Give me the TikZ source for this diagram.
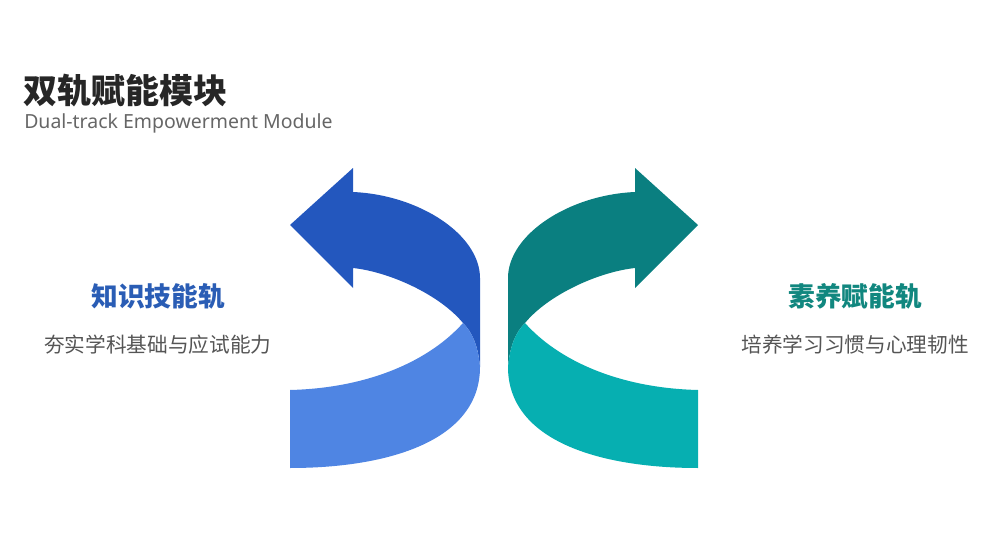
\documentclass[tikz,border=0pt]{standalone}
\usepackage{fontspec}
\usepackage{tikz}
\usetikzlibrary{positioning}
\newfontfamily\cjk{Noto Sans CJK SC}
\newfontfamily\latin{Noto Sans}
\definecolor{blueDark}{HTML}{2357BE}
\definecolor{blueLight}{HTML}{4F85E3}
\definecolor{tealDark}{HTML}{0A7F80}
\definecolor{tealLight}{HTML}{06AFB1}
\definecolor{blueText}{HTML}{2A5DB5}
\definecolor{tealText}{HTML}{11877F}
\definecolor{greyText}{HTML}{555555}

\begin{document}
\begin{tikzpicture}[x=0.75pt,y=-0.75pt]

          \tikzstyle{titleNode} = [inner sep=0pt, anchor=west, font=\cjk\bfseries\fontsize{25.5}{30}\selectfont, black!85];
          \tikzstyle{subNode} = [inner sep=0pt, anchor=base west, font=\latin\fontsize{14.6}{17}\selectfont, greyText!90];
          \tikzstyle{trackNode} = [inner sep=0pt, font=\cjk\bfseries\fontsize{20}{24}\selectfont];
          \tikzstyle{descNode} = [inner sep=0pt, font=\cjk\fontsize{15.5}{19}\selectfont, greyText];

          \useasboundingbox (0,0) rectangle (997,560);

          % left track arrow, right one is its mirror
          \foreach \mirror/\dark/\light in {1/blueDark/blueLight, -1/tealDark/tealLight} {
            \begin{scope}[xshift={(1-\mirror)*494*0.75pt}, xscale=\mirror]
              \fill[\dark] (290,225) -- (353,168) -- (353,192)
                .. controls (420,195) and (480,235) .. (480,278) -- (480,367)
                .. controls (478,345) and (472,332) .. (463,323)
                .. controls (440,295) and (390,272) .. (353,268) -- (353,288) -- cycle;
              \fill[\light] (290,390) .. controls (370,388) and (430,360) .. (463,323)
                .. controls (472,332) and (478,345) .. (480,367)
                .. controls (480,440) and (390,468) .. (290,468) -- cycle;
            \end{scope}
          }

          \node[titleNode] (title) at (23,91) {双轨赋能模块};
          \node[subNode] (subtitle) at (24,128) {Dual-track Empowerment Module};

          \node[trackNode, blueText] (knowTrack) at (158,296) {知识技能轨};
          \node[descNode] (knowDesc) at (158,345) {夯实学科基础与应试能力};
          \node[trackNode, tealText] (qualTrack) at (855,296) {素养赋能轨};
          \node[descNode] (qualDesc) at (855,345) {培养学习习惯与心理韧性};
        \end{tikzpicture}
\end{document}
